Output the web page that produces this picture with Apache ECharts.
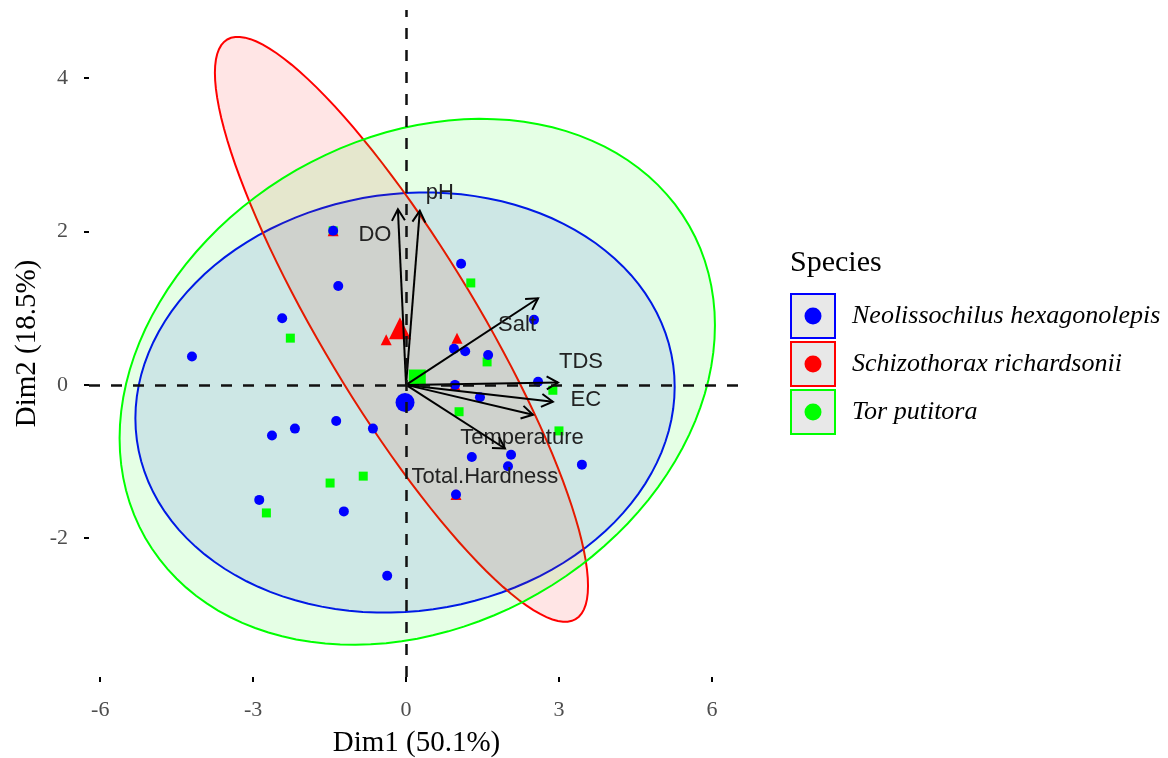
<!DOCTYPE html>
<html>
<head>
<meta charset="utf-8">
<script src="https://cdn.jsdelivr.net/npm/echarts@6/dist/echarts.min.js"></script>
<style>
  html, body { margin: 0; padding: 0; background: #fff; }
  #chart { width: 1168px; height: 758px; }
</style>
</head>
<body>
<div id="chart"></div>
<script>
// species and their colours
const species = ["Neolissochilus hexagonolepis", "Schizothorax richardsonii", "Tor putitora"];
const speciesColors = ["#0000FF", "#FF0000", "#00FF00"];

// individuals [Dim1, Dim2]
const neoPoints = [
  [-1.43, 2.01], [1.08, 1.58], [-1.33, 1.29], [-2.43, 0.87], [-4.20, 0.37],
  [2.51, 0.85], [0.94, 0.47], [1.16, 0.44], [1.61, 0.39], [0.96, 0.0],
  [1.45, -0.16], [2.59, 0.04], [1.29, -0.94], [2.06, -0.91], [2.0, -1.06],
  [3.45, -1.04], [0.98, -1.43], [-1.37, -0.47], [-2.18, -0.57], [-2.63, -0.66],
  [-0.65, -0.57], [-2.88, -1.50], [-1.22, -1.65], [-0.37, -2.49]
];
const schPoints = [
  [-1.43, 2.01], [-0.39, 0.59], [1.0, 0.61], [0.96, 0.0], [0.98, -1.43]
];
const torPoints = [
  [-1.43, 2.01], [1.27, 1.33], [1.59, 0.30], [1.04, -0.35], [2.88, -0.07],
  [3.0, -0.6], [-2.27, 0.61], [-1.49, -1.28], [-0.84, -1.19], [-2.74, -1.67]
];
// group centres (large markers)
const groupMeans = [[-0.02, -0.23], [-0.12, 0.74], [0.22, 0.09]];

// concentration ellipses: centre, half extent on each axis, correlation
const ellipseCx = [-0.02, -0.09, 0.22];
const ellipseCy = [-0.23, 0.725, 0.04];
const ellipseHalfX = [5.29, 3.66, 5.84];
const ellipseHalfY = [2.74, 3.815, 3.43];
const ellipseRho = [0.075, -0.877, 0.215];

// variable arrows
const varNames = ["DO", "pH", "Salt", "TDS", "EC", "Temperature", "Total.Hardness"];
const varDim1 = [-0.16, 0.27, 2.59, 2.98, 2.88, 2.49, 1.94];
const varDim2 = [2.29, 2.27, 1.13, 0.03, -0.22, -0.39, -0.83];

const xTicks = [-6, -3, 0, 3, 6];
const yTicks = [-2, 0, 2, 4];

// label nudges in px (repel-like placement)
const labelNudge = [[-23, 26], [20, -18], [-21, 27], [23, -21], [33, -2], [-11, 23], [-20, 28]];

const chart = echarts.init(document.getElementById("chart"));

function ellipsePts(i) {
  const r = ellipseRho[i], s = Math.sqrt(1 - r * r);
  const pts = [];
  for (let k = 0; k < 120; k++) {
    const t = 2 * Math.PI * k / 120;
    pts.push([
      ellipseCx[i] + ellipseHalfX[i] * Math.cos(t),
      ellipseCy[i] + ellipseHalfY[i] * (r * Math.cos(t) + s * Math.sin(t))
    ]);
  }
  return pts;
}

function hexA(hex, a) {
  const n = parseInt(hex.slice(1), 16);
  return "rgba(" + (n >> 16 & 255) + "," + (n >> 8 & 255) + "," + (n & 255) + "," + a + ")";
}

const serif = '"Liberation Serif", "Times New Roman", serif';
const sans = '"Liberation Sans", Arial, sans-serif';

const legendGraphic = [{
  type: "text", left: 790, top: 248,
  style: { text: "Species", font: "30px " + serif, fill: "#000" }
}];
species.forEach((name, i) => {
  const cy = 316 + i * 48;
  legendGraphic.push({
    type: "rect", shape: { x: 791, y: cy - 22, width: 44, height: 44 },
    style: { fill: "#e8e8e8", stroke: speciesColors[i], lineWidth: 2 }
  });
  legendGraphic.push({
    type: "circle", shape: { cx: 813, cy: cy, r: 8.5 },
    style: { fill: speciesColors[i] }
  });
  legendGraphic.push({
    type: "text", x: 852, y: cy,
    style: { text: name, font: "italic 26px " + serif, fill: "#000", verticalAlign: "middle" }
  });
});

const option = {
  animation: false,
  backgroundColor: "#fff",
  grid: { left: 89, right: 424, top: 10, bottom: 81, containLabel: false, outerBoundsMode: "none" },
  xAxis: {
    type: "value", min: -6.22, max: 6.63,
    name: "Dim1 (50.1%)", nameLocation: "middle", nameGap: 52,
    nameTextStyle: { fontFamily: serif, fontSize: 29, color: "#000" },
    axisLine: { show: false, onZero: false },
    splitLine: { show: false },
    axisTick: { show: true, length: 5, customValues: xTicks, lineStyle: { color: "#000", width: 2 } },
    axisLabel: { customValues: xTicks, margin: 22, fontFamily: serif, fontSize: 22, color: "#4d4d4d" }
  },
  yAxis: {
    type: "value", min: -3.81, max: 4.89,
    name: "Dim2 (18.5%)", nameLocation: "middle", nameGap: 47, nameRotate: 90,
    nameMoveOverlap: false,
    nameTextStyle: { fontFamily: serif, fontSize: 29, color: "#000" },
    axisLine: { show: false, onZero: false },
    splitLine: { show: false },
    axisTick: { show: true, length: 5, customValues: yTicks, lineStyle: { color: "#000", width: 2 } },
    axisLabel: { customValues: yTicks, margin: 21, fontFamily: serif, fontSize: 22, color: "#4d4d4d" }
  },
  graphic: legendGraphic,
  series: [
    {
      type: "custom", name: "ellipses", z: 1, silent: true,
      data: ellipseCx.map((x, i) => [x, ellipseCy[i]]),
      renderItem(params, api) {
        const i = params.dataIndex;
        return {
          type: "polygon",
          shape: { points: ellipsePts(i).map(p => api.coord(p)) },
          style: { fill: hexA(speciesColors[i], 0.1), stroke: speciesColors[i], lineWidth: 2 }
        };
      }
    },
    {
      type: "scatter", name: species[2], z: 2, symbol: "rect", symbolSize: 9,
      itemStyle: { color: speciesColors[2], opacity: 1 }, data: torPoints
    },
    {
      type: "scatter", name: species[1], z: 2, symbol: "triangle", symbolSize: 11,
      itemStyle: { color: speciesColors[1], opacity: 1 }, data: schPoints
    },
    {
      type: "scatter", name: species[0], z: 2, symbol: "circle", symbolSize: 10,
      itemStyle: { color: speciesColors[0], opacity: 1 }, data: neoPoints
    },
    {
      type: "scatter", name: "means", z: 2,
      data: groupMeans.map((p, i) => ({
        value: p,
        symbol: ["circle", "triangle", "rect"][i],
        symbolSize: [19, 22, 17][i],
        itemStyle: { color: speciesColors[i], opacity: 1 }
      }))
    },
    {
      type: "line", name: "axes0", z: 3, data: [],
      markLine: {
        silent: true, symbol: "none", animation: false,
        label: { show: false },
        lineStyle: { color: "#111", width: 2.5, type: [11, 11] },
        data: [{ xAxis: 0 }, { yAxis: 0 }]
      }
    },
    {
      type: "custom", name: "variables", z: 4, silent: true,
      data: varDim1.map((x, i) => [x, varDim2[i]]),
      renderItem(params, api) {
        const i = params.dataIndex;
        const o = api.coord([0, 0]);
        const e = api.coord([api.value(0), api.value(1)]);
        const ang = Math.atan2(e[1] - o[1], e[0] - o[0]);
        const h = 13, wa = Math.PI / 6;
        const p1 = [e[0] - h * Math.cos(ang - wa), e[1] - h * Math.sin(ang - wa)];
        const p2 = [e[0] - h * Math.cos(ang + wa), e[1] - h * Math.sin(ang + wa)];
        const nud = labelNudge[i];
        return {
          type: "group",
          children: [
            { type: "line", shape: { x1: o[0], y1: o[1], x2: e[0], y2: e[1] },
              style: { stroke: "#000", lineWidth: 2 } },
            { type: "polyline", shape: { points: [p1, e, p2] },
              style: { stroke: "#000", lineWidth: 2, fill: null } },
            { type: "text", x: e[0] + nud[0], y: e[1] + nud[1],
              style: { text: varNames[i], font: "22px " + sans, fill: "#222",
                       align: "center", verticalAlign: "middle" } }
          ]
        };
      }
    }
  ]
};

chart.setOption(option);
</script>
</body>
</html>
